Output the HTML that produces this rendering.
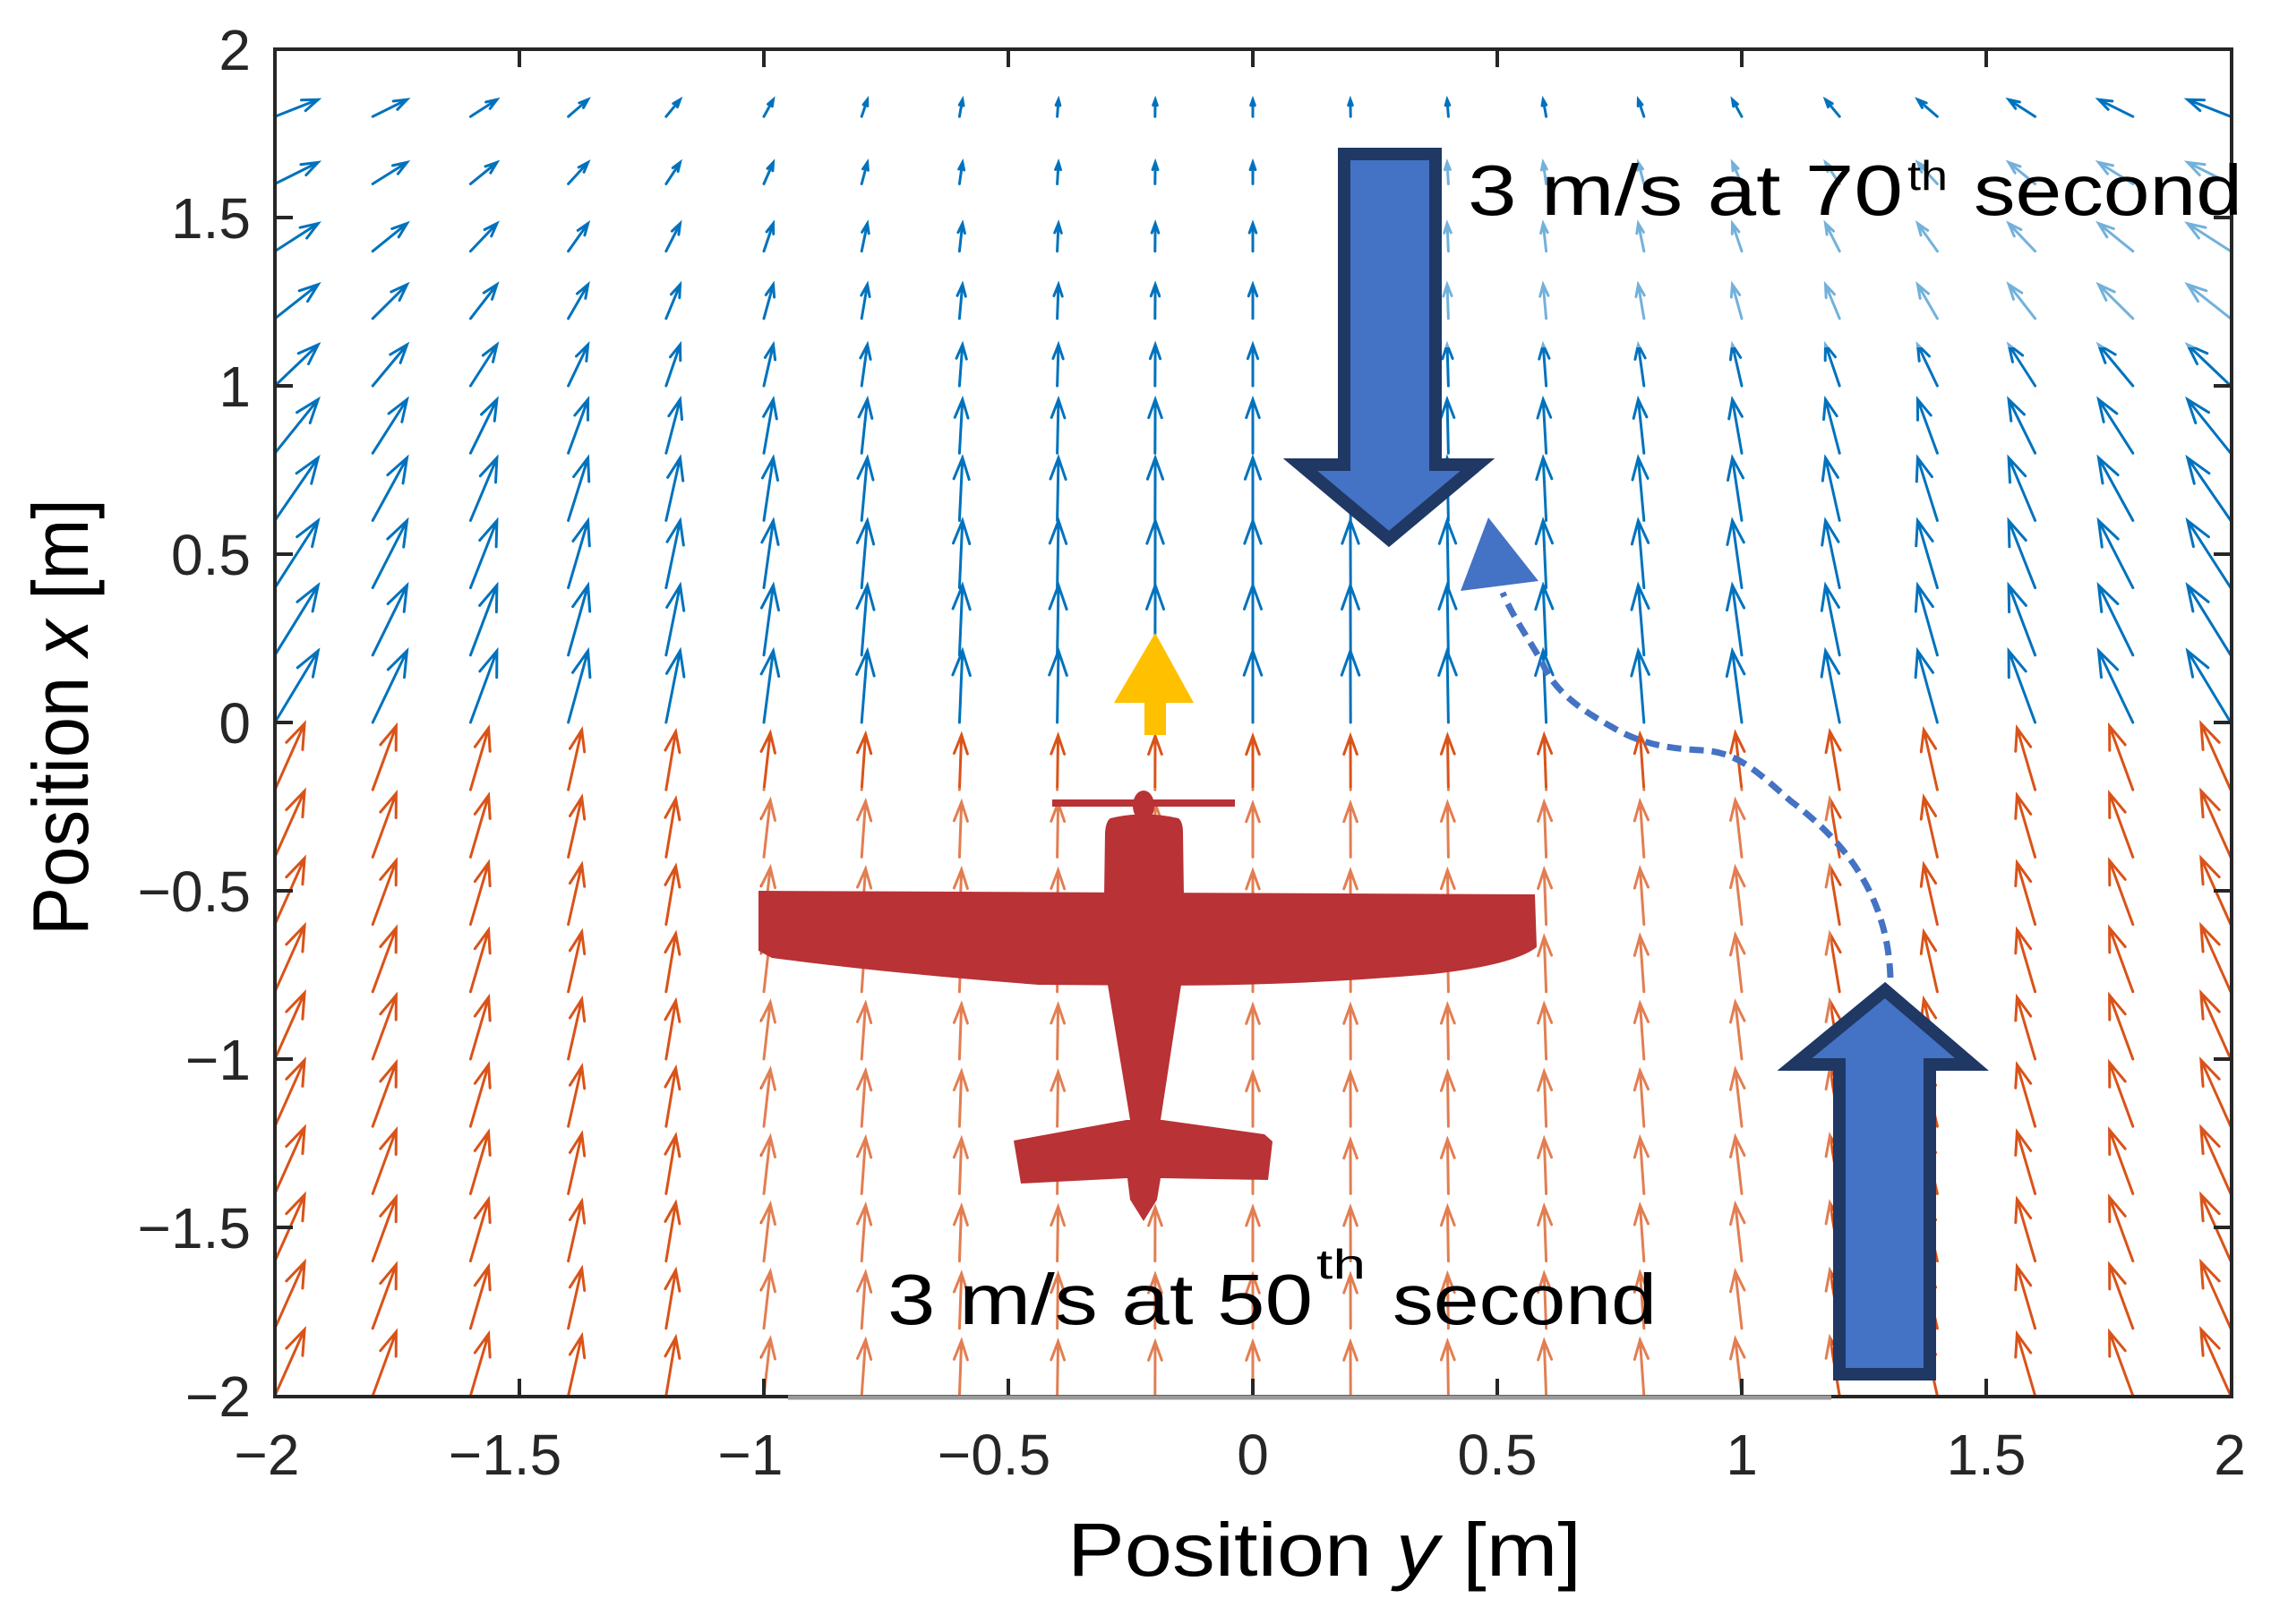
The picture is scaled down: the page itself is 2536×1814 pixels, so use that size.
<!DOCTYPE html>
<html><head><meta charset="utf-8"><style>
html,body{margin:0;padding:0;background:#fff;}
svg{display:block;}
</style></head><body>
<svg id="s" width="2536" height="1814" viewBox="0 0 2536 1814" xmlns="http://www.w3.org/2000/svg">
<rect width="2536" height="1814" fill="#fff"/>
<g id="arrows" fill="none" stroke-width="3" stroke-linecap="round"></g>
<!-- faded overlays -->
<rect x="1607" y="150" width="888" height="238" fill="#fff" fill-opacity="0.45"/>
<rect x="850" y="880" width="1195" height="680" fill="#fff" fill-opacity="0.25"/>
<!-- frame -->
<g stroke="#262626" stroke-width="4" fill="none">
<path d="M307,55 H2492 V1560 H307 Z"/>
<path d="M580,55 v20 M853,55 v20 M1126,55 v20 M1399,55 v20 M1672,55 v20 M1945,55 v20 M2218,55 v20
M580,1560 v-20 M853,1560 v-20 M1126,1560 v-20 M1399,1560 v-20 M1672,1560 v-20 M1945,1560 v-20 M2218,1560 v-20
M307,243 h20 M307,431 h20 M307,619 h20 M307,807 h20 M307,995 h20 M307,1183 h20 M307,1371 h20
M2492,243 h-20 M2492,431 h-20 M2492,619 h-20 M2492,807 h-20 M2492,995 h-20 M2492,1183 h-20 M2492,1371 h-20"/>
</g>
<line x1="880" y1="1561" x2="2045" y2="1561" stroke="#9a9a9a" stroke-width="5"/>
<!-- tick labels -->
<g font-family="'Liberation Sans',Arial,sans-serif" font-size="64" fill="#262626" text-anchor="end">
<text x="280" y="78">2</text>
<text x="280" y="266">1.5</text>
<text x="280" y="454">1</text>
<text x="280" y="642">0.5</text>
<text x="280" y="830">0</text>
<text x="280" y="1018">−0.5</text>
<text x="280" y="1206">−1</text>
<text x="280" y="1394">−1.5</text>
<text x="280" y="1582">−2</text>
</g>
<g font-family="'Liberation Sans',Arial,sans-serif" font-size="64" fill="#262626" text-anchor="middle">
<text x="298" y="1647">−2</text>
<text x="564" y="1647">−1.5</text>
<text x="838" y="1647">−1</text>
<text x="1110" y="1647">−0.5</text>
<text x="1399" y="1647">0</text>
<text x="1672" y="1647">0.5</text>
<text x="1945" y="1647">1</text>
<text x="2218" y="1647">1.5</text>
<text x="2490" y="1647">2</text>
</g>
<!-- axis titles -->
<text x="1192" y="1760" font-family="'Liberation Sans',sans-serif" font-size="84" fill="#000" textLength="574" lengthAdjust="spacingAndGlyphs">Position <tspan font-style="italic">y</tspan> [m]</text>
<text transform="translate(98,1045) rotate(-90)" x="0" y="0" font-family="'Liberation Sans',sans-serif" font-size="88" fill="#000" textLength="488" lengthAdjust="spacingAndGlyphs">Position <tspan font-style="italic">x</tspan> [m]</text>
<!-- airplane -->
<g fill="#b83236">
<rect x="1175" y="893" width="204" height="8"/>
<ellipse cx="1277" cy="900" rx="12" ry="17"/>
<path d="M1240,914 Q1277,905 1316,914 Q1321,918 1321,930 L1322,1000 L1319,1100 L1296,1251 L1262,1251 L1237,1100 L1233,1000 L1234,930 Q1235,917 1240,914 Z"/>
<path d="M847,995 L1714,999 L1716,1058 Q1690,1078 1600,1088 Q1450,1101 1300,1101 L1160,1100 Q1000,1088 862,1070 L847,1062 Z"/>
<path d="M1132,1274 L1258,1251 L1298,1251 L1412,1267 L1421,1275 L1416,1318 L1296,1316 L1292,1340 L1277,1364 L1262,1340 L1259,1316 L1140,1322 Z"/>
</g>
<!-- yellow arrow -->
<path d="M1290,707 L1333,785 L1302,785 L1302,821 L1278,821 L1278,785 L1244,785 Z" fill="#ffc000"/>
<!-- big down arrow -->
<path d="M1501,172 L1603,172 L1603,519 L1650,519 L1551,602 L1452,519 L1501,519 Z" fill="#4472c4" stroke="#1f3864" stroke-width="14" stroke-linejoin="miter"/>
<!-- big up arrow -->
<path d="M2105,1106 L2202,1189 L2155,1189 L2155,1535 L2054,1535 L2054,1189 L2004,1189 Z" fill="#4472c4" stroke="#1f3864" stroke-width="14" stroke-linejoin="miter"/>
<!-- dashed curve -->
<path d="M2111,1092 C2108,1000 2060,940 2000,895 C1960,860 1940,840 1900,838 C1860,836 1830,830 1800,812 C1760,790 1735,770 1722,740 C1705,710 1690,690 1678,662" fill="none" stroke="#4472c4" stroke-width="7" stroke-dasharray="16,9"/>
<path d="M1662,578 L1631,660 L1718,649 Z" fill="#4472c4"/>
<!-- labels -->
<g font-family="'Liberation Sans Narrow','Liberation Sans',sans-serif" fill="#000">
<text x="1639" y="240" font-size="80" textLength="486" lengthAdjust="spacingAndGlyphs">3 m/s at 70</text>
<text x="2130" y="212" font-size="46" textLength="45" lengthAdjust="spacingAndGlyphs">th</text>
<text x="2204" y="240" font-size="80" textLength="300" lengthAdjust="spacingAndGlyphs">second</text>
<text x="991" y="1479" font-size="80" textLength="475" lengthAdjust="spacingAndGlyphs">3 m/s at 50</text>
<text x="1470" y="1428" font-size="46" textLength="55" lengthAdjust="spacingAndGlyphs">th</text>
<text x="1555" y="1479" font-size="80" textLength="295" lengthAdjust="spacingAndGlyphs">second</text>
</g>
</svg>
<script>
(function(){
var g=document.getElementById('arrows');var out='';
var blueDy=[80,78,75,70,60,46,38,31,24,19];
function arrow(x,y,dx,dy,col){
 var L=Math.sqrt(dx*dx+dy*dy);var ux=dx/L,uy=dy/L;var h=Math.min(0.34*L,28);var w=h*0.36;
 var tx=x+dx,ty=y+dy;var bx=tx-ux*h,by=ty-uy*h;var px=-uy,py=ux;
 out+='<path stroke="'+col+'" d="M'+x.toFixed(1)+','+y.toFixed(1)+'L'+tx.toFixed(1)+','+ty.toFixed(1)+'M'+(bx+px*w).toFixed(1)+','+(by+py*w).toFixed(1)+'L'+tx.toFixed(1)+','+ty.toFixed(1)+'L'+(bx-px*w).toFixed(1)+','+(by-py*w).toFixed(1)+'"/>';
}
for(var i=0;i<=20;i++){
 var yy=-2+0.2*i;var px=307+546*(yy+2);var s=yy<0?1:(yy>0?-1:0);var a=Math.pow(Math.abs(yy),2.2);
 for(var j=0;j<10;j++){
  var xx=0.2*j;var py=55+376*(2-xx);
  arrow(px,py,s*10.5*a,-blueDy[j],'#0072bd');
 }
 for(var j=1;j<=10;j++){
  var xx=-0.2*j;var py=55+376*(2-xx);
  var dy=60+14*Math.pow(Math.abs(yy)/2,2);
  arrow(px,py,s*7.2*a,-dy,'#d95319');
 }
}
g.innerHTML=out;
})();
</script>
</body></html>
